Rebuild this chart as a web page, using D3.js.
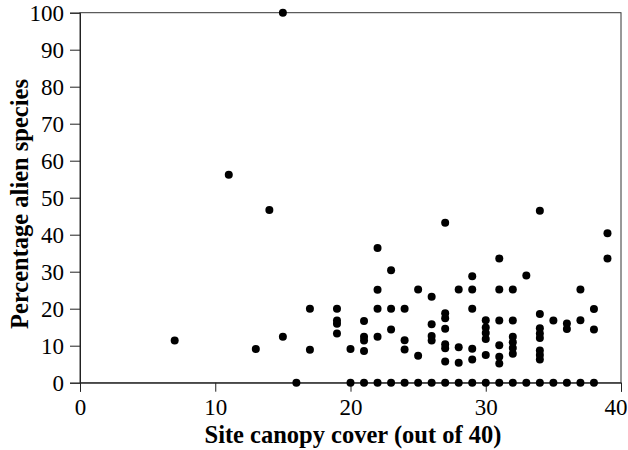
<!DOCTYPE html>
<html>
<head>
<meta charset="utf-8">
<script src="https://cdn.jsdelivr.net/npm/d3@7"></script>
<style>
  body { margin: 0; background: #fff; }
  svg text { font-family: "Liberation Serif", "Times New Roman", serif; fill: #000; }
</style>
</head>
<body>
<div id="chart"></div>
<script>
// canopy cover (x) and percentage alien species (y)
const canopy = [
  7, 11, 13, 14, 15, 15, 17, 17,
  19, 19, 19, 19, 20,
  21, 21, 21, 21,
  22, 22, 22, 22,
  23, 23, 23,
  24, 24, 24,
  25, 25,
  26, 26, 26, 26,
  27, 27, 27, 27, 27, 27, 27,
  28, 28, 28,
  29, 29, 29, 29, 29,
  30, 30, 30, 30, 30,
  31, 31, 31, 31, 31, 31,
  32, 32, 32, 32, 32, 32,
  33,
  34, 34, 34, 34, 34, 34, 34, 34,
  35, 36, 36, 37, 37, 38, 38, 39, 39,
  // sites with no alien species
  16, 20, 21, 22, 23, 24, 25, 26, 27, 28, 29, 30, 31, 32, 33, 34, 35, 36, 37, 38
]
const alien = [
  11.4, 56.2, 9.1, 46.7, 100, 12.4, 20, 8.9,
  20, 16.8, 15.9, 13.3, 9.1,
  16.7, 12.4, 11.4, 8.6,
  36.4, 25.1, 20, 12.4,
  30.4, 20, 14.4,
  20, 11.5, 9.0,
  25.2, 7.3,
  23.2, 15.8, 12.6, 11.4,
  43.2, 18.8, 17.4, 14.6, 10.4, 9.3, 5.7,
  25.2, 9.6, 5.4,
  28.8, 25.2, 20, 9.2, 6.3,
  16.9, 14.9, 13.4, 11.8, 7.5,
  33.6, 25.2, 16.8, 10.1, 7.0, 5.2,
  25.2, 16.8, 12.4, 10.9, 9.4, 7.8,
  29.0,
  46.5, 18.6, 14.7, 13.3, 12.1, 8.7, 7.5, 6.3,
  16.8, 16.0, 14.5, 25.2, 16.9, 19.9, 14.4, 40.4, 33.6,
  0, 0, 0, 0, 0, 0, 0, 0, 0, 0, 0, 0, 0, 0, 0, 0, 0, 0, 0, 0
]
const xTicks = [0, 10, 20, 30, 40]
const yTicks = [0, 10, 20, 30, 40, 50, 60, 70, 80, 90, 100]

const sites = canopy.map((c, i) => ({canopy: c, alien: alien[i]}))

const w = 628
const h = 450
const margin = {top: 12.7, right: 7, bottom: 67.3, left: 80}

const svg = d3.select('#chart')
  .append('svg')
    .attr('width', w)
    .attr('height', h)

const xScale = d3.scaleLinear()
  .domain([0, 40])
  .range([margin.left, w - margin.right])

const yScale = d3.scaleLinear()
  .domain([0, 100])
  .range([h - margin.bottom, margin.top])

// frame round the plot
svg.append('rect')
  .attr('x', xScale(0))
  .attr('y', yScale(100))
  .attr('width', xScale(40) - xScale(0))
  .attr('height', yScale(0) - yScale(100))
  .attr('fill', 'none')
  .attr('stroke', '#333')
  .attr('stroke-width', 1)

// axes
const xAxis = svg.append('g')
  .attr('transform', 'translate(0,' + yScale(0) + ')')
  .call(d3.axisBottom(xScale).tickValues(xTicks).tickSize(9).tickPadding(7))
const yAxis = svg.append('g')
  .attr('transform', 'translate(' + xScale(0) + ',0)')
  .call(d3.axisLeft(yScale).tickValues(yTicks).tickSize(10).tickPadding(6))

;[xAxis, yAxis].forEach(g => {
  g.select('.domain').attr('stroke', '#222')
  g.selectAll('.tick line').attr('stroke', '#222')
  g.selectAll('.tick text')
    .style('font-family', '"Liberation Serif", serif')
    .style('font-size', '23px')
    .attr('fill', '#000')
})

// last x label sits against the right edge, as in the figure
xAxis.selectAll('.tick text')
  .filter(d => d === 40)
  .attr('text-anchor', 'end')
  .attr('dx', 627 - xScale(40))

// points
svg.append('g')
  .selectAll('circle')
  .data(sites)
  .enter()
  .append('circle')
    .attr('cx', d => xScale(d.canopy))
    .attr('cy', d => yScale(d.alien))
    .attr('r', 4)
    .attr('fill', '#000')

// axis titles
svg.append('text')
  .attr('x', 353)
  .attr('y', 443)
  .attr('text-anchor', 'middle')
  .style('font-size', '24.5px')
  .style('font-weight', 'bold')
  .text('Site canopy cover (out of 40)')

svg.append('text')
  .attr('transform', 'translate(28,204) rotate(-90)')
  .attr('text-anchor', 'middle')
  .style('font-size', '24.5px')
  .style('font-weight', 'bold')
  .text('Percentage alien species')
</script>
</body>
</html>
